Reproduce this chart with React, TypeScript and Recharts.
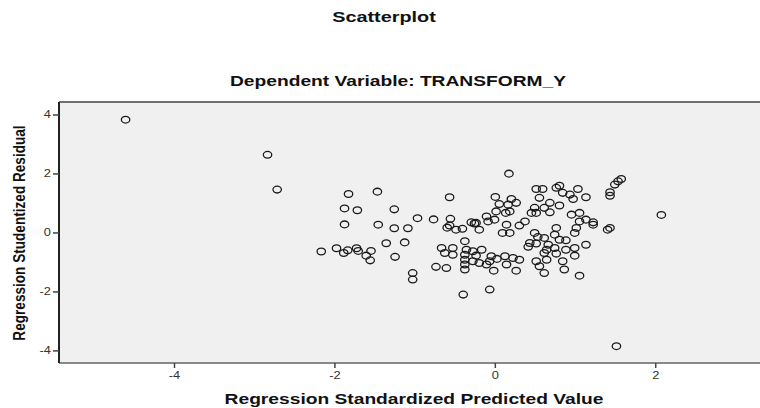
import { CartesianGrid, ReferenceLine, Scatter, ScatterChart, XAxis, YAxis } from 'recharts'

// Regression standardized predicted value (x) and studentized residual (y)
const predicted = [
    -4.61, -2.84, -2.72, 2.07, 1.51,
    -1.83, -1.47, -1.88, -1.72, -1.26, -0.97, -1.88, -1.46, -1.26, -1.09,
    -1.36, -1.13, -2.17, -1.98, -1.89, -1.84, -1.73, -1.71, -1.55, -1.61,
    -1.56, -1.25, -1.03, -1.03, -0.77, -0.57, -0.56, -0.57, -0.6, -0.41,
    -0.3, -0.26, -0.24, -0.2, -0.11, -0.09, 0.0, 0.05, 0.16, 0.2,
    0.26, 0.01, 0.13, 0.18, -0.01, 0.14, 0.09, 0.18, 0.3, 0.37,
    0.49, 0.45, 0.51, 0.61, 0.68, 0.51, 0.59, 0.55, 0.68, 0.76,
    0.8, 0.84, 0.93, 0.97, 1.03, 1.13, 0.8, 0.95, 1.05, 1.05,
    1.13, 1.22, 1.22, 1.01, 0.76, 0.74, 0.8, 0.88, 0.99, 1.13,
    0.49, 0.53, 0.61, 0.43, 0.41, 0.51, 0.66, 0.64, 0.74, 0.76,
    0.88, 0.99, 0.99, 0.84, 0.64, 0.51, 0.55, 0.86, 1.05, 0.61,
    0.26, 0.14, 0.3, 0.22, 0.12, 0.02, -0.07, -0.11, -0.05, -0.17,
    -0.28, -0.24, -0.28, -0.36, -0.38, -0.38, -0.38, -0.38, -0.53, -0.67,
    -0.63, -0.53, -0.74, -0.61, -0.38, -0.4, -0.07, -0.02, -0.2, 0.61,
    1.57, 1.53, 1.49, 1.43, 1.43, 1.4, 1.43, 0.17, -0.49,
]

const residual = [
    3.84, 2.65, 1.47, 0.61, -3.84,
    1.32, 1.4, 0.83, 0.77, 0.8, 0.5, 0.29, 0.28, 0.16, 0.16,
    -0.35, -0.32, -0.63, -0.52, -0.68, -0.59, -0.52, -0.61, -0.61, -0.77,
    -0.93, -0.81, -1.36, -1.58, 0.46, 1.21, 0.48, 0.25, 0.18, 0.14,
    0.36, 0.32, 0.34, 0.11, 0.56, 0.39, 1.22, 0.98, 0.96, 1.15,
    1.02, 0.73, 0.68, 0.73, 0.45, 0.28, 0.0, 0.0, 0.25, 0.39,
    0.85, 0.68, 0.68, 0.85, 0.7, 1.49, 1.49, 1.19, 1.02, 1.53,
    1.6, 1.36, 1.3, 1.15, 1.49, 1.21, 0.93, 0.62, 0.68, 0.39,
    0.45, 0.36, 0.28, 0.17, 0.17, -0.06, -0.23, -0.25, 0.0, -0.4,
    0.0, -0.14, -0.17, -0.34, -0.47, -0.36, -0.4, -0.57, -0.51, -0.7,
    -0.57, -0.51, -0.77, -0.96, -0.91, -0.96, -1.13, -1.24, -1.45, -1.36,
    -1.28, -1.07, -0.91, -0.85, -0.79, -0.88, -0.96, -1.07, -0.79, -0.57,
    -0.62, -0.77, -0.96, -0.57, -0.74, -0.91, -1.07, -1.24, -0.51, -0.51,
    -0.68, -0.74, -1.15, -1.19, -0.28, -2.09, -1.92, -1.28, -1.02, -0.68,
    1.83, 1.75, 1.64, 1.38, 1.26, 0.11, 0.17, 2.01, 0.11,
]

const xTicks = [-4, -2, 0, 2]
const yTicks = [-4, -2, 0, 2, 4]

const points = predicted.map((x, i) => ({ x, y: residual[i] }))

const font = 'Arial, "Liberation Sans", sans-serif'
// the source picture is stretched sideways
const stretch = 1.28

const Ring = (props: any) => (
    <ellipse
        cx={props.cx}
        cy={props.cy}
        rx={4.2}
        ry={3.4}
        fill='none'
        stroke='#1a1a1a'
        strokeWidth={1.3}
    />
)

const Tick = (props: any) => {
    const { x, y, payload, textAnchor, orientation } = props
    const dy = orientation === 'bottom' ? 9 : 3.5
    return (
        <text
            x={x}
            y={y + dy}
            textAnchor={textAnchor}
            fontSize={10}
            fontFamily={font}
            fill='#333'
            transform={`translate(${x} 0) scale(${stretch} 1) translate(${-x} 0)`}
        >
            {payload.value}
        </text>
    )
}

const title = (cx: number, cy: number, size: number) => ({
    position: 'absolute' as const,
    left: cx,
    top: cy,
    transform: `translate(-50%, -50%) scaleX(${stretch})`,
    whiteSpace: 'nowrap' as const,
    fontSize: size,
    fontWeight: 'bold' as const,
    color: '#111',
    lineHeight: 1,
})

export default function App() {
    return (
        <div style={{ position: 'absolute', left: 0, top: 0, width: 760, height: 408, background: '#fff', fontFamily: font, overflow: 'hidden' }}>
            <div style={title(384, 17, 15.5)}>Scatterplot</div>
            <div style={title(398, 80, 15)}>Dependent Variable: TRANSFORM_Y</div>
            <div style={title(414, 398, 15)}>Regression Standardized Predicted Value</div>
            <div
                style={{
                    position: 'absolute',
                    left: 20,
                    top: 233,
                    transform: `translate(-50%, -50%) rotate(-90deg) scaleY(${stretch})`,
                    whiteSpace: 'nowrap',
                    fontSize: 13.6,
                    fontWeight: 'bold',
                    color: '#111',
                    lineHeight: 1,
                }}
            >
                Regression Studentized Residual
            </div>
            <div style={{ position: 'absolute', left: 0, top: 0 }}>
                <ScatterChart width={760} height={408} margin={{ top: 102, right: 0, bottom: 0, left: 0 }}>
                    <CartesianGrid horizontal={false} vertical={false} fill='#f0f0f0' />
                    <XAxis
                        type='number'
                        dataKey='x'
                        domain={[-5.44, 3.3]}
                        ticks={xTicks}
                        allowDataOverflow
                        height={45}
                        stroke='#888'
                        strokeWidth={2}
                        tickSize={5}
                        tick={<Tick />}
                        tickLine={{ stroke: '#444', strokeWidth: 1.5 }}
                    />
                    <YAxis
                        type='number'
                        dataKey='y'
                        domain={[-4.41, 4.44]}
                        ticks={yTicks}
                        allowDataOverflow
                        width={59}
                        stroke='#222'
                        strokeWidth={2}
                        tickSize={6}
                        tick={<Tick />}
                        tickLine={{ stroke: '#444', strokeWidth: 1.5 }}
                    />
                    <ReferenceLine y={4.44} stroke='#707070' strokeWidth={2} />
                    <Scatter data={points} shape={Ring} isAnimationActive={false} />
                </ScatterChart>
            </div>
        </div>
    )
}
